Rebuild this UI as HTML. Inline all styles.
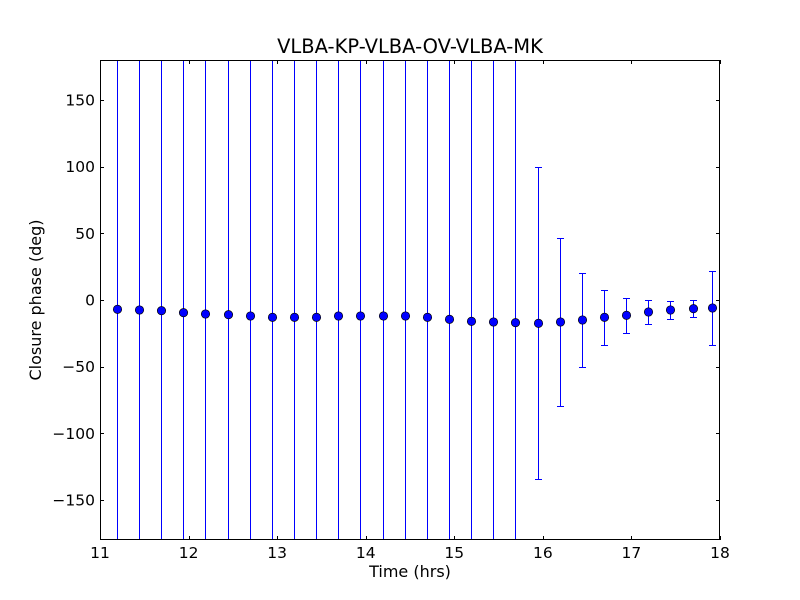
<!DOCTYPE html>
<html><head><meta charset="utf-8"><style>
html,body{margin:0;padding:0;background:#fff;width:800px;height:600px;overflow:hidden;}
svg{display:block;overflow:hidden;font-family:"DejaVu Sans","Liberation Sans",sans-serif;}
</style></head><body>
<svg id="chart" width="800" height="600" viewBox="0 0 800 600">
<rect width="800" height="600" fill="#fff"/>
<g id="marks"></g>
<rect x="100.5" y="60.5" width="619" height="479" fill="none" stroke="#000" stroke-width="1" shape-rendering="crispEdges"/>
<g id="axes" shape-rendering="crispEdges"></g>
<text x="410" y="53" text-anchor="middle" font-size="19.5">VLBA-KP-VLBA-OV-VLBA-MK</text>
<text x="410" y="577" text-anchor="middle" font-size="16">Time (hrs)</text>
<text x="41" y="300" text-anchor="middle" font-size="16" transform="rotate(-90 41 300)">Closure phase (deg)</text>
</svg>
<script>
const times=[11.19,11.44,11.69,11.94,12.19,12.44,12.69,12.94,13.19,13.44,13.69,13.94,14.19,14.44,14.69,14.94,15.19,15.44,15.69,15.94,16.19,16.44,16.69,16.94,17.19,17.44,17.69,17.91];
const phases=[-7,-7.5,-8,-9.5,-10.5,-11,-12,-13,-13,-13,-12,-12,-12,-12,-13,-14.5,-16,-16.5,-17,-17.5,-16.5,-15,-13,-11.5,-9,-7.5,-6.5,-6];
const errors=[500,500,500,500,500,500,500,500,500,500,500,500,500,500,500,500,500,500,500,117,63,35,20.5,13,9,6.5,6.5,27.5];
const xTicks=[11,12,13,14,15,16,17,18];
const yTicks=[-150,-100,-50,0,50,100,150];
const NS="http://www.w3.org/2000/svg";
const X=v=>100+(v-11)/7*620;
const Y=v=>300-v*480/360;
const px=v=>Math.round(v)+0.5;
function mk(tag,attrs,parent){const e=document.createElementNS(NS,tag);for(const k in attrs)e.setAttribute(k,attrs[k]);parent.appendChild(e);return e;}
const marks=document.getElementById('marks'),axes=document.getElementById('axes');
times.forEach((t,i)=>{
  const x=Math.round(X(t));
  const top=Y(phases[i]+errors[i]),bot=Y(phases[i]-errors[i]);
  const y1=Math.max(61,Math.round(top)),y2=Math.min(539,Math.round(bot));
  const l=mk('rect',{x:x,y:y1,width:1,height:y2-y1+1,fill:'#0000ff'},marks);
  
  
  [top,bot].forEach(yy=>{if(yy<60||yy>540)return;
    const c=mk('rect',{x:x-3,y:Math.round(yy),width:7,height:1,fill:'#0000ff'},marks);
    
    });
});
times.forEach((t,i)=>{
  const p=mk('circle',{cx:Math.round(X(t))+0.5,cy:Y(phases[i]),r:4.2,fill:'#0000ff',stroke:'#000','stroke-width':0.7},marks);
  
  
});
xTicks.forEach(v=>{const x=px(X(v));
  mk('line',{x1:x,x2:x,y1:540,y2:536,stroke:'#000'},axes);
  mk('line',{x1:x,x2:x,y1:60,y2:64,stroke:'#000'},axes);
  const t=mk('text',{x:X(v),y:558,'text-anchor':'middle','font-size':15.5},axes);t.textContent=v;
  
  
});
yTicks.forEach(v=>{const y=px(Y(v));
  mk('line',{x1:100,x2:104,y1:y,y2:y,stroke:'#000'},axes);
  mk('line',{x1:720,x2:716,y1:y,y2:y,stroke:'#000'},axes);
  const t=mk('text',{x:95,y:Y(v)+5.5,'text-anchor':'end','font-size':15.5},axes);t.textContent=v<0?'\u2212'+(-v):v;
  
  
});
</script>
</body></html>
